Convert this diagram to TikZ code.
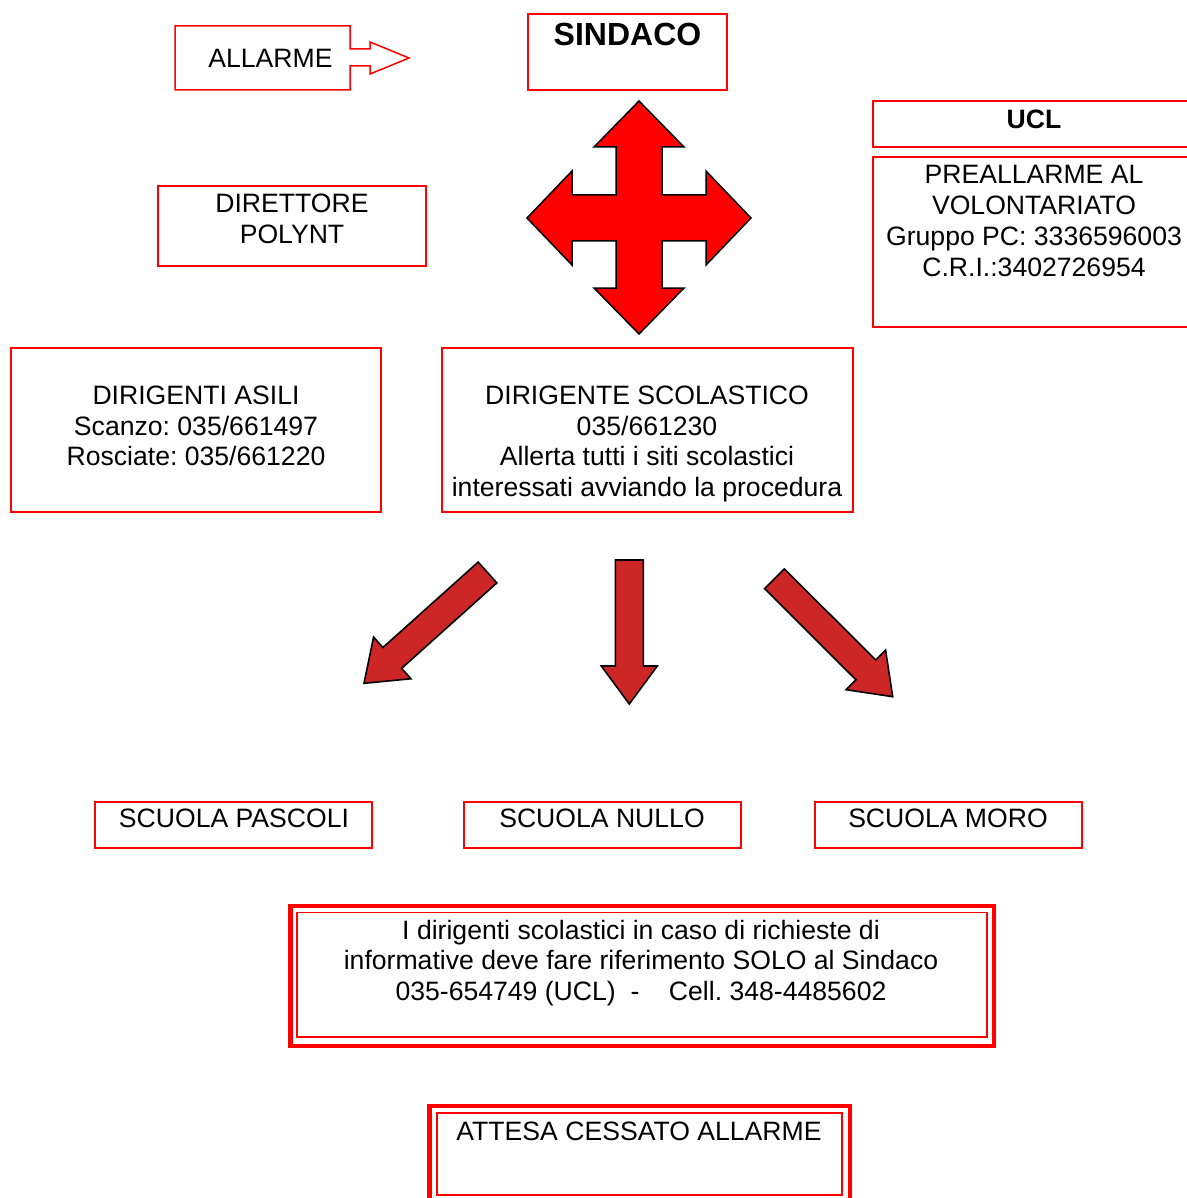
\documentclass[tikz,border=0pt]{standalone}
\usepackage{fontspec}
\setmainfont{Liberation Sans}
\usetikzlibrary{shapes,arrows,calc}

\definecolor{arrowred}{RGB}{205,38,38}

% fat arrow drawn from a start coordinate to a tip coordinate
\newcommand{\fatarrow}[2]{%
  \coordinate (#2 base) at ($(#2)!38pt!(#1)$);
  \filldraw[fat arrow] ($(#1)!14pt!90:(#2)$) -- ($(#2 base)!14pt!90:(#2)$) -- ($(#2 base)!28pt!90:(#2)$) -- (#2)
    -- ($(#2 base)!28pt!-90:(#2)$) -- ($(#2 base)!14pt!-90:(#2)$) -- ($(#1)!14pt!-90:(#2)$) -- cycle;}

\frenchspacing

\begin{document}
\begin{tikzpicture}[x=1pt, y=-1pt]
    	 	% Define block styles
    	 	\tikzstyle{block} = [rectangle, draw=red, line width=1.5pt, inner sep=0pt, outer sep=0pt, anchor=north west]
    	 	\tikzstyle{thin block} = [block, draw=red, line width=1.4pt]
    	 	\tikzstyle{frame} = [block, draw=red, line width=4.5pt]
    	 	\tikzstyle{txt} = [font=\fontsize{26.6}{30.7}\selectfont, align=center, inner sep=0pt]
    	 	\tikzstyle{bold txt} = [txt, font=\fontsize{26.6}{30.7}\selectfont\bfseries]
    	 	\tikzstyle{fat arrow} = [fill=arrowred, draw=black, line width=1.6pt, line join=miter]
    	 	\tikzstyle{cross arrow} = [fill=red, draw=black, line width=1.5pt, line join=miter]

    	 	\useasboundingbox (0,0) rectangle (1186,1198);

    	 	% Nodes
    	 	\node [block, draw=none, minimum width=175, minimum height=64] (allarme) at (175,26) {};
    	 	\node [block, minimum width=199, minimum height=76] (sindaco) at (528,14) {};
    	 	\node [block, minimum width=268, minimum height=80] (direttore) at (158,186) {};
    	 	\node [block, minimum width=330, minimum height=46] (ucl) at (873,101) {};
    	 	\node [block, minimum width=330, minimum height=170] (preallarme) at (873,157) {};
    	 	\node [block, minimum width=370, minimum height=164] (asili) at (11,348) {};
    	 	\node [block, minimum width=411, minimum height=164] (scolastico) at (442,348) {};
    	 	\node [block, minimum width=277, minimum height=46] (pascoli) at (95,802) {};
    	 	\node [block, minimum width=277, minimum height=46] (nullo) at (464,802) {};
    	 	\node [block, minimum width=267, minimum height=46] (moro) at (815,802) {};
    	 	\node [frame, minimum width=703.5, minimum height=140] (info frame) at (290.5,906) {};
    	 	\node [thin block, minimum width=690, minimum height=124.5] (info) at (297,912.5) {};
    	 	\node [frame, minimum width=420.5, minimum height=110] (attesa frame) at (429.5,1106) {};
    	 	\node [thin block, minimum width=405, minimum height=82] (attesa) at (437,1113) {};

    	 	% Texts
    	 	\node [txt] (allarme text) at (270.5,58) {ALLARME};
    	 	\node [bold txt, font=\fontsize{32}{36}\selectfont\bfseries] (sindaco text) at (627.5,34.5) {SINDACO};
    	 	\node [txt] (direttore text) at (292,218.5) {DIRETTORE\\POLYNT};
    	 	\node [bold txt] (ucl text) at (1034,119) {UCL};
    	 	\node [txt] (preallarme text) at (1034,221) {PREALLARME AL\\VOLONTARIATO\\Gruppo PC: 3336596003\\C.R.I.:3402726954};
    	 	\node [txt] (asili text) at (196,426) {DIRIGENTI ASILI\\Scanzo: 035/661497\\Rosciate: 035/661220};
    	 	\node [txt] (scolastico text) at (647,444) {DIRIGENTE SCOLASTICO\\035/661230\\Allerta tutti i siti scolastici\\interessati avviando la procedura};
    	 	\node [txt] (pascoli text) at (234,818.5) {SCUOLA PASCOLI};
    	 	\node [txt] (nullo text) at (602,818.5) {SCUOLA NULLO};
    	 	\node [txt] (moro text) at (948,818.5) {SCUOLA MORO};
    	 	\node [txt] (info text) at (641,963) {I dirigenti scolastici in caso di richieste di\\informative deve fare riferimento SOLO al Sindaco\\035-654749 (UCL)\ \ -\ \ \ \ Cell. 348-4485602};
    	 	\node [txt] (attesa text) at (639,1131) {ATTESA CESSATO ALLARME};

    	 	% Allarme box with its arrow
    	 	\draw [red, line width=1.5pt, line join=miter] (allarme.south west) -- (allarme.north west) -- (allarme.north east)
    	 	  -- ++(0,23) -- ++(20,0) -- ++(0,-7) -- ++(39,16) -- ++(-39,16) -- ++(0,-8) -- ++(-20,0) -- (allarme.south east) -- cycle;

    	 	% Four way arrow under the Sindaco
    	 	\coordinate (hub) at (639,218);
    	 	\filldraw [cross arrow, shift={(hub)}] (0,-117) -- (45,-71) -- (23,-71) -- (23,-23) -- (67,-23) -- (67,-47) -- (112,0)
    	 	  -- (67,47) -- (67,23) -- (23,23) -- (23,70) -- (45,70) -- (0,116) -- (-45,70) -- (-23,70) -- (-23,23)
    	 	  -- (-67,23) -- (-67,47) -- (-112,0) -- (-67,-47) -- (-67,-23) -- (-23,-23) -- (-23,-71) -- (-45,-71) -- cycle;

    	 	% Arrows towards the schools
    	 	\coordinate (left start) at (487.5,572.5);
    	 	\coordinate (left tip) at (364,683.3);
    	 	\coordinate (mid start) at (629.3,560);
    	 	\coordinate (mid tip) at (629.3,704);
    	 	\coordinate (right start) at (774.5,578.8);
    	 	\coordinate (right tip) at (892.7,696.7);
    	 	\fatarrow{left start}{left tip}
    	 	\fatarrow{mid start}{mid tip}
    	 	\fatarrow{right start}{right tip}
\end{tikzpicture}
\end{document}
